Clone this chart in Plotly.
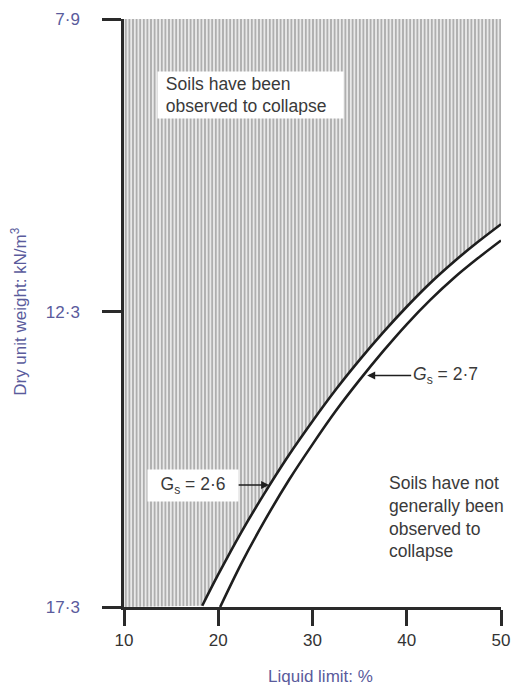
import plotly.graph_objects as go

# ---- data ----
ll_26 = [18.3, 20.0, 22.5, 25.0, 27.5, 30.0, 32.5, 35.0, 37.5, 40.0, 42.5, 45.0, 47.5, 50.0]
gd_26 = [17.28, 16.78, 16.09, 15.46, 14.87, 14.33, 13.82, 13.35, 12.91, 12.50, 12.12, 11.78, 11.47, 11.18]

ll_27 = [20.2, 22.5, 25.0, 27.5, 30.0, 32.5, 35.0, 37.5, 40.0, 42.5, 45.0, 47.5, 50.0]
gd_27 = [17.3, 16.59, 15.90, 15.27, 14.70, 14.16, 13.67, 13.21, 12.78, 12.39, 12.04, 11.73, 11.44]

x_range = [10, 50]
y_range = [7.9, 17.3]
x_ticks = [10, 20, 30, 40, 50]
y_tick_pos = [7.9, 12.58, 17.3]
y_tick_text = ["7·9", "12·3", "17·3"]

FONT = "Liberation Sans, Arial, sans-serif"
BLUE = "#5a5b9c"
TXT = "#3a3a3a"

fig = go.Figure()

# hatched region (collapsible soils): above/left of the Gs = 2.6 curve
hx = [x_range[0], x_range[1]] + ll_26[::-1] + [x_range[0]]
hy = [y_range[0], y_range[0]] + gd_26[::-1] + [y_range[1]]
fig.add_trace(go.Scatter(
    x=hx, y=hy, mode="lines", fill="toself", line=dict(width=0),
    fillcolor="#e6e6e6",
    fillpattern=dict(shape="|", size=3.6, solidity=0.42, fgcolor="#5e5e5e", bgcolor="#e9e9e9"),
    hoverinfo="skip", showlegend=False))

fig.add_trace(go.Scatter(x=ll_26, y=gd_26, mode="lines",
                         line=dict(color="#1e1e1e", width=2.6, shape="spline"),
                         showlegend=False))
fig.add_trace(go.Scatter(x=ll_27, y=gd_27, mode="lines",
                         line=dict(color="#1e1e1e", width=2.6, shape="spline"),
                         showlegend=False))

fig.update_layout(
    width=520, height=688,
    margin=dict(l=124, r=10, t=14, b=81),
    paper_bgcolor="white", plot_bgcolor="white",
    font=dict(family=FONT, size=17, color=TXT),
    showlegend=False,
)
fig.update_xaxes(range=x_range, tickvals=x_ticks, ticks="outside", ticklen=16,
                 tickwidth=2.5, tickcolor="#2a2a2a", showline=True, linewidth=2.5,
                 linecolor="#2a2a2a", showgrid=False, zeroline=False,
                 tickfont=dict(size=17, color="#333333"))
fig.update_yaxes(range=[y_range[1], y_range[0]], tickvals=y_tick_pos, ticktext=y_tick_text,
                 ticks="outside", ticklen=19, tickwidth=2.5, tickcolor="#2a2a2a",
                 showline=True, linewidth=2.5, linecolor="#2a2a2a", showgrid=False,
                 zeroline=False, ticklabelstandoff=19,
                 tickfont=dict(size=17, color=BLUE))

ann = []
ann.append(dict(xref="paper", yref="paper", x=-0.277, y=0.503, text="Dry unit weight: kN/m<sup>3</sup>",
                textangle=-90, showarrow=False, font=dict(size=17, color=BLUE),
                xanchor="center", yanchor="middle"))
ann.append(dict(xref="paper", yref="paper", x=0.52, y=-0.118, text="Liquid limit: %",
                showarrow=False, font=dict(size=17, color=BLUE),
                xanchor="center", yanchor="middle"))
ann.append(dict(xref="paper", yref="paper", x=0.088, y=0.912, xanchor="left", yanchor="top",
                text=" Soils have been<br> observed to collapse", align="left",
                showarrow=False, bgcolor="white", borderpad=3, width=179, height=40,
                font=dict(size=17.5, color=TXT)))
ann.append(dict(xref="paper", yref="paper", x=0.697, y=0.231, xanchor="left", yanchor="top",
                text="Soils have not<br>generally been<br>observed to<br>collapse", align="left",
                showarrow=False, font=dict(size=17.5, color=TXT)))
ann.append(dict(xref="x", yref="y", x=25.4, y=15.35, ax=-76, ay=0,
                text="G<sub>s</sub> = 2·6", showarrow=True, arrowhead=2, arrowsize=1,
                arrowwidth=1.6, arrowcolor="#1e1e1e", bgcolor="white", borderpad=4,
                width=82, font=dict(size=17.5, color=TXT)))
ann.append(dict(xref="x", yref="y", x=35.8, y=13.6, ax=78, ay=0,
                text="<i>G</i><sub>s</sub> = 2·7", showarrow=True, arrowhead=2, arrowsize=1,
                arrowwidth=1.6, arrowcolor="#1e1e1e", font=dict(size=17.5, color=TXT)))
fig.update_layout(annotations=ann)

fig.write_html("out.html")
